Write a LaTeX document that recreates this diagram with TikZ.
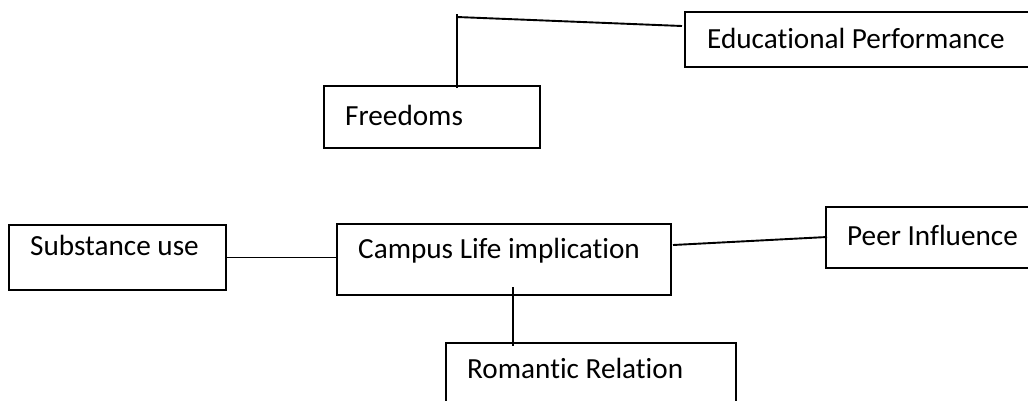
\documentclass[tikz,border=0pt]{standalone}
\usepackage{fontspec}
\setmainfont{Carlito}[Ligatures=NoCommon]
\usetikzlibrary{calc}
\begin{document}
\begin{tikzpicture}[x=1pt,y=1pt,
  box/.style={draw=black, line width=2pt, rectangle, inner sep=0pt, anchor=north west},
  lbl/.style={anchor=base west, inner sep=0pt, font=\fontsize{29.2}{33}\selectfont},
  link/.style={draw=black, line width=1.9pt}]
\useasboundingbox (0,0) rectangle (1028,-400);
% boxes
\node[box, minimum width=216pt, minimum height=62pt] (fr) at (323,-85) {};
\node[box, minimum width=348pt, minimum height=55pt] (ed) at (684,-11) {};
\node[box, minimum width=217pt, minimum height=65pt] (su) at (8,-224) {};
\node[box, minimum width=334pt, minimum height=71pt] (ca) at (336,-223) {};
\node[box, minimum width=207pt, minimum height=61pt] (pe) at (825,-206) {};
\node[box, minimum width=290pt, minimum height=66pt] (ro) at (445,-342) {};
% texts
\node[lbl] (frt) at ($(fr.north west)+(22,-40)$) {Freedoms};
\node[lbl] (edt) at ($(ed.north west)+(23,-37)$) {Educational Performance};
\node[lbl] (sut) at ($(su.north west)+(22,-31)$) {Substance use};
\node[lbl] (cat) at ($(ca.north west)+(22,-35)$) {Campus Life implication};
\node[lbl] (pet) at ($(pe.north west)+(22,-39)$) {Peer Influence};
\node[lbl] (rot) at ($(ro.north west)+(22,-36)$) {Romantic Relation};
% connectors
\coordinate (fe) at (457,-14);
\coordinate (fh) at (457,-17);
\path[link] ($(fr.north west)+(134,-3)$) -- (fe);
\path[link] (fh) -- ($(ed.north west)+(-2,-15)$);
\path[link] (su.east) -- (su.east -| ca.west);
\path[link] ($(ca.north east)+(1,-22)$) -- ($(pe.north west)+(2,-31)$);
\path[link] ($(ca.south west)+(177,9)$) -- ($(ro.north west)+(68,-4)$);
\end{tikzpicture}
\end{document}
